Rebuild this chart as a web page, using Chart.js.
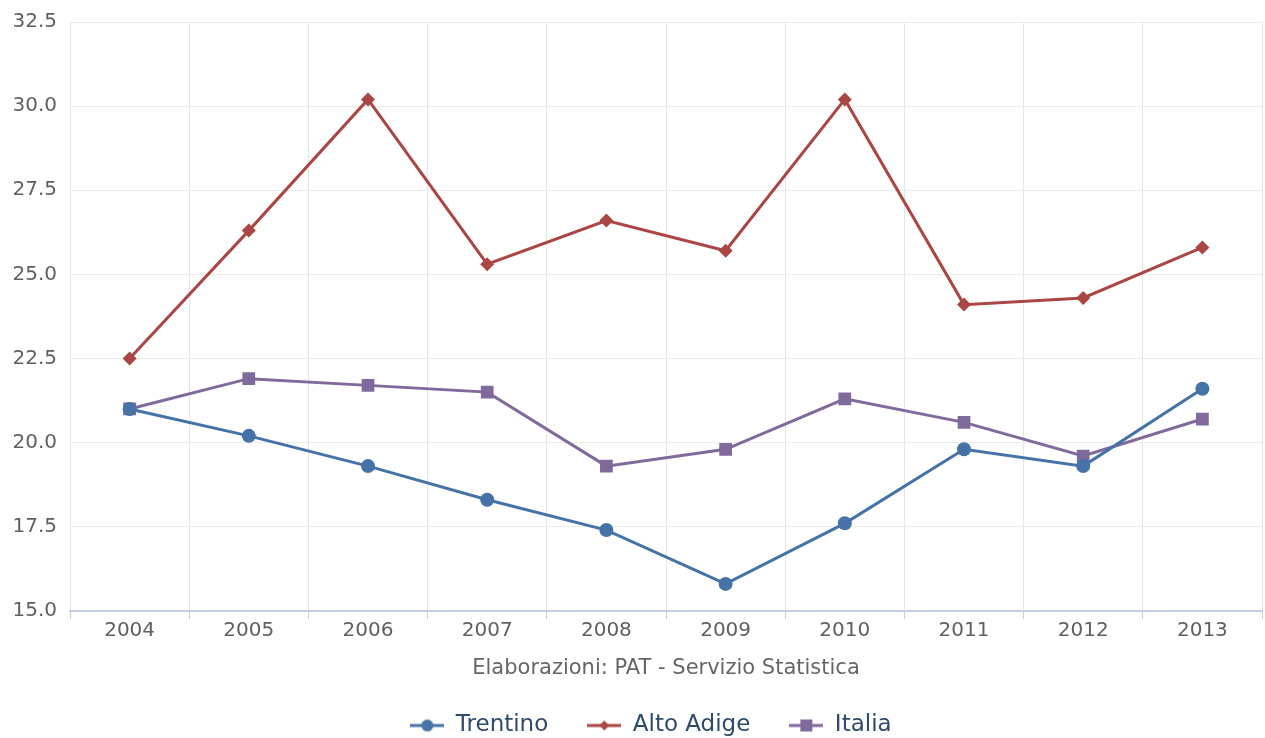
<!DOCTYPE html>
<html>
<head>
<meta charset="utf-8">
<script src="https://cdn.jsdelivr.net/npm/chart.js@4"></script>
<style>
  html, body { margin: 0; padding: 0; background: #fff; }
  #wrap { width: 1265px; height: 738px; }
</style>
</head>
<body>
<div id="wrap"><canvas id="chart" width="1265" height="738"></canvas></div>
<script>
// Data
const years = ['2004', '2005', '2006', '2007', '2008', '2009', '2010', '2011', '2012', '2013'];
const trentino = [21.0, 20.2, 19.3, 18.3, 17.4, 15.8, 17.6, 19.8, 19.3, 21.6];
const altoAdige = [22.5, 26.3, 30.2, 25.3, 26.6, 25.7, 30.2, 24.1, 24.3, 25.8];
const italia = [21.0, 21.9, 21.7, 21.5, 19.3, 19.8, 21.3, 20.6, 19.6, 20.7];

const BLUE = '#4572A7';
const RED = '#AA4643';
const PURPLE = '#80699B';

// legend symbol: short line with the marker in the middle
function legendSymbol(color, shape) {
    const c = document.createElement('canvas');
    c.width = 34; c.height = 16;
    const g = c.getContext('2d');
    g.strokeStyle = color;
    g.lineWidth = 3;
    g.beginPath(); g.moveTo(0, 8); g.lineTo(34, 8); g.stroke();
    g.fillStyle = color;
    g.beginPath();
    if (shape === 'circle') {
        g.arc(17, 8, 6, 0, Math.PI * 2);
    } else if (shape === 'diamond') {
        g.moveTo(17, 3); g.lineTo(22, 8); g.lineTo(17, 13); g.lineTo(12, 8); g.closePath();
    } else {
        g.rect(11, 2, 12, 12);
    }
    g.fill();
    return c;
}

const symbols = [legendSymbol(BLUE, 'circle'), legendSymbol(RED, 'diamond'), legendSymbol(PURPLE, 'square')];

const font = "'DejaVu Sans', Verdana, sans-serif";

// nudge the legend a bit to the right, like the original
const shiftLegend = {
    id: 'shiftLegend',
    afterUpdate(chart) {
        chart.legend.left += 20;
        chart.legend.right += 20;
    }
};

new Chart(document.getElementById('chart').getContext('2d'), {
    type: 'line',
    data: {
        labels: years,
        datasets: [
            {
                label: 'Trentino',
                data: trentino,
                borderColor: BLUE,
                backgroundColor: BLUE,
                borderWidth: 3,
                pointStyle: 'circle',
                pointRadius: 7,
                pointHoverRadius: 7,
                pointBorderWidth: 0
            },
            {
                label: 'Alto Adige',
                data: altoAdige,
                borderColor: RED,
                backgroundColor: RED,
                borderWidth: 3,
                pointStyle: 'rectRot',
                pointRadius: 7,
                pointHoverRadius: 7,
                pointBorderWidth: 0
            },
            {
                label: 'Italia',
                data: italia,
                borderColor: PURPLE,
                backgroundColor: PURPLE,
                borderWidth: 3,
                pointStyle: 'rect',
                pointRadius: 9,
                pointHoverRadius: 9,
                pointBorderWidth: 0
            }
        ]
    },
    plugins: [shiftLegend],
    options: {
        responsive: false,
        animation: false,
        layout: { autoPadding: false, padding: { top: 22, right: 3, left: 0, bottom: -9 } },
        plugins: {
            tooltip: { enabled: false },
            legend: {
                position: 'bottom',
                labels: {
                    usePointStyle: true,
                    pointStyleWidth: 34,
                    padding: 39,
                    color: '#2f4a6a',
                    font: { family: font, size: 23 },
                    generateLabels: chart => chart.data.datasets.map((ds, i) => ({
                        text: ds.label,
                        pointStyle: symbols[i],
                        fillStyle: ds.borderColor,
                        strokeStyle: ds.borderColor,
                        fontColor: '#2f4a6a',
                        lineWidth: 0,
                        hidden: false,
                        datasetIndex: i
                    }))
                }
            }
        },
        scales: {
            x: {
                offset: true,
                afterFit: scale => { scale.paddingLeft = 0; scale.paddingRight = 0; },
                grid: {
                    offset: true,
                    color: '#e2e7ec',
                    tickColor: '#c0d0e0',
                    tickLength: 8,
                    lineWidth: 1
                },
                border: { display: true, color: '#c0d0e0', width: 2 },
                ticks: { color: '#606060', font: { family: font, size: 20 }, padding: 0 },
                title: {
                    display: true,
                    text: 'Elaborazioni: PAT - Servizio Statistica',
                    color: '#666',
                    font: { family: font, size: 21 },
                    padding: { top: 13, bottom: -6 }
                }
            },
            y: {
                min: 15,
                max: 32.5,
                afterFit: scale => {
                    scale.width = 70;
                    scale.paddingTop = 0;
                    scale.paddingBottom = 0;
                },
                grid: { color: '#ececec', tickLength: 0, lineWidth: 1 },
                border: { display: false },
                ticks: {
                    stepSize: 2.5,
                    color: '#606060',
                    padding: 13,
                    font: { family: font, size: 20 },
                    callback: v => v.toFixed(1)
                }
            }
        }
    }
});
</script>
</body>
</html>
